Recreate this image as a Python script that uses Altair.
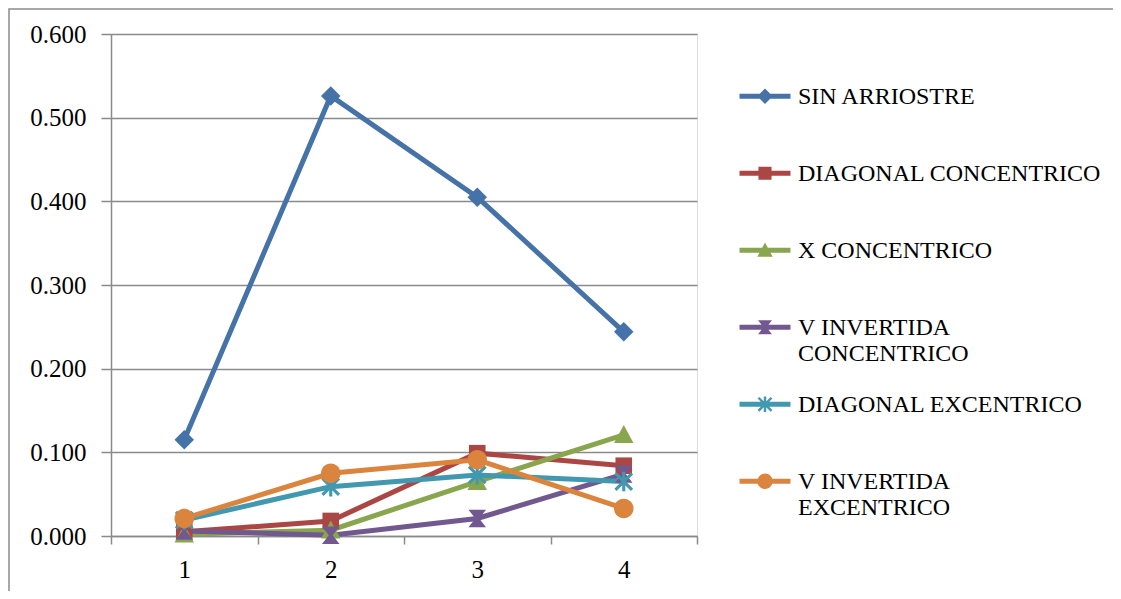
import altair as alt
import pandas as pd

# ---------------- data ----------------
categories = [1, 2, 3, 4]
series_names = [
    "SIN ARRIOSTRE",
    "DIAGONAL CONCENTRICO",
    "X CONCENTRICO",
    "V INVERTIDA CONCENTRICO",
    "DIAGONAL EXCENTRICO",
    "V INVERTIDA EXCENTRICO",
]
sin_arriostre = [0.115, 0.526, 0.405, 0.244]
diagonal_concentrico = [0.005, 0.018, 0.099, 0.084]
x_concentrico = [0.002, 0.007, 0.065, 0.121]
v_invertida_concentrico = [0.006, 0.001, 0.021, 0.074]
diagonal_excentrico = [0.019, 0.059, 0.073, 0.065]
v_invertida_excentrico = [0.021, 0.075, 0.091, 0.033]
y_ticks = [0.0, 0.1, 0.2, 0.3, 0.4, 0.5, 0.6]

all_values = [sin_arriostre, diagonal_concentrico, x_concentrico,
              v_invertida_concentrico, diagonal_excentrico, v_invertida_excentrico]

rows = []
for name, vals in zip(series_names, all_values):
    for c, v in zip(categories, vals):
        rows.append({"cat": str(c), "value": v, "series": name})
df = pd.DataFrame(rows)

# ---------------- styling ----------------
colors = ["#4572A7", "#AA4643", "#89A54E", "#71588F", "#4198AF", "#DB843D"]
FONT = "Liberation Serif"
GRID = "#8a8a8a"


def bar_path(points, k):
    """clockwise rectangle around segment"""
    (x1, y1), (x2, y2) = points
    dx, dy = x2 - x1, y2 - y1
    ln = (dx * dx + dy * dy) ** 0.5
    nx, ny = dy / ln * k, -dx / ln * k
    pts = [(x1 + nx, y1 + ny), (x2 + nx, y2 + ny), (x2 - nx, y2 - ny), (x1 - nx, y1 - ny)]
    return "M" + "L".join(f"{a:.3f},{b:.3f}" for a, b in pts) + "Z"


def poly(pts):
    return "M" + "L".join(f"{a:.3f},{b:.3f}" for a, b in pts) + "Z"


def markers(scale=1.0, dy=0.0):
    s = scale
    diamond = poly([(0, -1.0 * s + dy), (1.0 * s, dy), (0, 1.0 * s + dy), (-1.0 * s, dy)])
    square = poly([(-0.85 * s, -0.85 * s + dy), (0.85 * s, -0.85 * s + dy),
                   (0.85 * s, 0.85 * s + dy), (-0.85 * s, 0.85 * s + dy)])
    tri = poly([(0, -1.0 * s + dy), (1.0 * s, 0.85 * s + dy), (-1.0 * s, 0.85 * s + dy)])
    hour = poly([(-0.9 * s, -0.9 * s + dy), (0.9 * s, -0.9 * s + dy), (0.2 * s, dy),
                 (0.9 * s, 0.9 * s + dy), (-0.9 * s, 0.9 * s + dy), (-0.2 * s, dy)])
    k = 0.16 * s
    star = (bar_path([(-0.85 * s, -0.85 * s + dy), (0.85 * s, 0.85 * s + dy)], k)
            + bar_path([(-0.85 * s, 0.85 * s + dy), (0.85 * s, -0.85 * s + dy)], k)
            + bar_path([(0, -1.0 * s + dy), (0, 1.0 * s + dy)], k))
    r = 1.0 * s
    circle = (f"M{r:.3f},{dy:.3f}A{r:.3f},{r:.3f},0,1,1,{-r:.3f},{dy:.3f}"
              f"A{r:.3f},{r:.3f},0,1,1,{r:.3f},{dy:.3f}Z")
    return [diamond, square, tri, hour, star, circle]


plot_shapes = markers(1.0, 0.0)
LEG_DY = -1.1
leg_bar = poly([(-3.64, -0.36 + LEG_DY), (3.64, -0.36 + LEG_DY),
                (3.64, 0.36 + LEG_DY), (-3.64, 0.36 + LEG_DY)])
legend_shapes = [leg_bar + m for m in markers(1.1, LEG_DY)]

W, H = 586, 502

x_enc = alt.X(
    "cat:N",
    title=None,
    scale=alt.Scale(paddingInner=0, paddingOuter=0),
    axis=alt.Axis(labelAngle=0, tickBand="extent", tickSize=8, labelPadding=13,
                  labelFont=FONT, labelFontSize=25, labelColor="#000000",
                  domainColor=GRID, domainWidth=1.5, tickColor=GRID, tickWidth=1.5,
                  grid=False),
)
y_enc = alt.Y(
    "value:Q",
    title=None,
    scale=alt.Scale(domain=[0, 0.6], nice=False),
    axis=alt.Axis(values=y_ticks, format=".3f", tickSize=10, labelPadding=15,
                  labelFont=FONT, labelFontSize=25, labelColor="#000000",
                  domainColor=GRID, domainWidth=1.5, tickColor=GRID, tickWidth=1.5,
                  grid=True, gridColor=GRID, gridWidth=1.5),
)
color_scale = alt.Scale(domain=series_names, range=colors)

frame = alt.Chart(alt.Data(values=[{"a": 1}])).mark_rect(
    filled=False, stroke="#8c8c8c", strokeWidth=1.5
).encode(
    x=alt.value(-102), x2=alt.value(1300), y=alt.value(-25), y2=alt.value(800)
)

lines = alt.Chart(df).mark_line(strokeWidth=5).encode(
    x=x_enc, y=y_enc,
    color=alt.Color("series:N", scale=color_scale, legend=None),
)

points = alt.Chart(df).mark_point(filled=True, opacity=1, size=380, strokeWidth=0).encode(
    x=x_enc, y=y_enc,
    color=alt.Color("series:N", scale=color_scale, legend=None),
    shape=alt.Shape("series:N", scale=alt.Scale(domain=series_names, range=plot_shapes),
                    legend=None),
)

label_expr = ("datum.label == 'V INVERTIDA CONCENTRICO' ? ['V INVERTIDA', 'CONCENTRICO'] : "
              "datum.label == 'V INVERTIDA EXCENTRICO' ? ['V INVERTIDA', 'EXCENTRICO'] : datum.label")
leg = alt.Legend(
    title=None, orient="none", legendX=642, legendY=58,
    symbolSize=196, symbolStrokeWidth=0, symbolOpacity=1,
    labelFont=FONT, labelFontSize=24, labelColor="#000000", labelLimit=500,
    labelOffset=21, labelBaseline="alphabetic", labelExpr=label_expr,
    rowPadding=27, gridAlign="all", padding=0, columns=1,
)

legend_layer = alt.Chart(df).mark_point(filled=True, opacity=1, size=196).encode(
    x=x_enc, y=y_enc,
    color=alt.Color("series:N", scale=color_scale, legend=leg),
    shape=alt.Shape("series:N", scale=alt.Scale(domain=series_names, range=legend_shapes),
                    legend=leg),
).transform_filter("false")

chart = alt.layer(frame, lines, points, legend_layer).resolve_scale(
    color="independent", shape="independent"
).properties(
    width=W, height=H,
    autosize=alt.AutoSizeParams(type="none"),
    padding={"left": 103, "top": 26, "right": 416, "bottom": 55},
).configure_view(stroke=None).configure(background="white")

chart.save("out.html", embed_options={"renderer": "svg", "actions": False})
